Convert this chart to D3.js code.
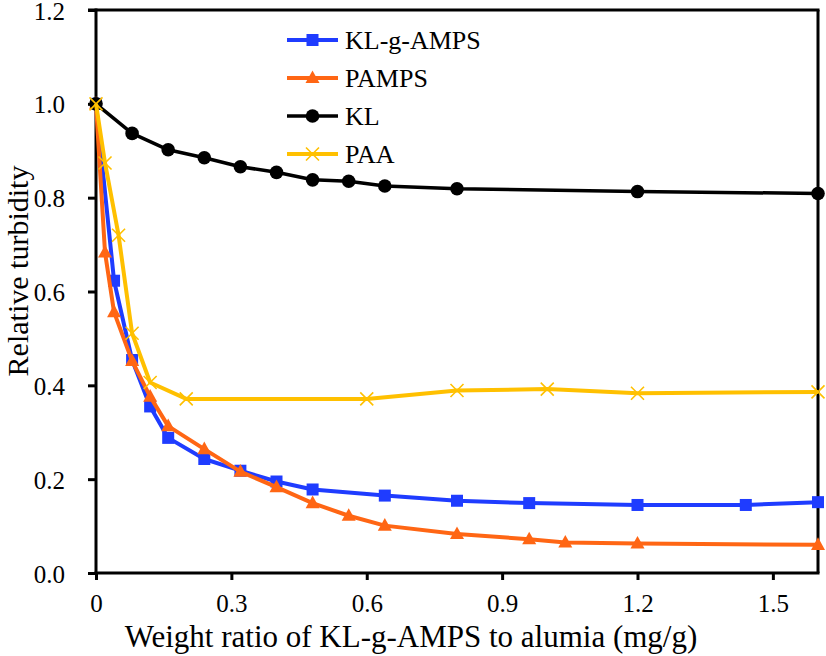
<!DOCTYPE html>
<html>
<head>
<meta charset="utf-8">
<script src="https://cdn.jsdelivr.net/npm/d3@7"></script>
<style>
  html, body { margin: 0; padding: 0; background: #fff; }
  svg { display: block; }
  svg text { font-family: 'Liberation Serif', 'Times New Roman', Times, 'DejaVu Serif', serif !important; fill: #000; }
</style>
</head>
<body>
<svg id="chart" width="826" height="656"></svg>
<script>
// ---- data ----
const klgX   = [0, 0.04, 0.08, 0.12, 0.16, 0.24, 0.32, 0.40, 0.48, 0.64, 0.80, 0.96, 1.20, 1.44, 1.60];
const klgY   = [1.0, 0.623, 0.454, 0.355, 0.288, 0.243, 0.218, 0.195, 0.178, 0.165, 0.154, 0.149, 0.145, 0.145, 0.151];
const pampsX = [0, 0.02, 0.04, 0.08, 0.12, 0.16, 0.24, 0.32, 0.40, 0.48, 0.56, 0.64, 0.80, 0.96, 1.04, 1.20, 1.60];
const pampsY = [1.0, 0.683, 0.556, 0.452, 0.376, 0.313, 0.264, 0.216, 0.183, 0.149, 0.122, 0.101, 0.083, 0.072, 0.065, 0.063, 0.060];
const klX    = [0, 0.08, 0.16, 0.24, 0.32, 0.40, 0.48, 0.56, 0.64, 0.80, 1.20, 1.60];
const klY    = [1.0, 0.937, 0.902, 0.885, 0.866, 0.854, 0.838, 0.835, 0.825, 0.819, 0.813, 0.809];
const paaX   = [0, 0.02, 0.05, 0.08, 0.12, 0.20, 0.60, 0.80, 1.00, 1.20, 1.60];
const paaY   = [1.0, 0.874, 0.720, 0.511, 0.406, 0.371, 0.371, 0.389, 0.392, 0.383, 0.386];

const seriesNames = ["KL-g-AMPS", "PAMPS", "KL", "PAA"];
const xTicks = [0, 0.3, 0.6, 0.9, 1.2, 1.5];
const yTicks = [0, 0.2, 0.4, 0.6, 0.8, 1.0, 1.2];
const xTitle = "Weight ratio of KL-g-AMPS to alumia (mg/g)";
const yTitle = "Relative turbidity";

// ---- layout ----
const FONT = "'Liberation Serif', 'Times New Roman', Times, 'DejaVu Serif', serif";
const L = 96, R = 818, T = 10, B = 573;
const svg = d3.select("#chart");
const x = d3.scaleLinear().domain([0, 1.6]).range([L, R]);
const y = d3.scaleLinear().domain([0, 1.2]).range([B, T]);

const series = [
  {name: seriesNames[0], xs: klgX, ys: klgY, color: "#1f3cff", width: 4, marker: "square"},
  {name: seriesNames[1], xs: pampsX, ys: pampsY, color: "#ff6614", width: 4, marker: "triangle"},
  {name: seriesNames[2], xs: klX, ys: klY, color: "#000000", width: 3.5, marker: "circle"},
  {name: seriesNames[3], xs: paaX, ys: paaY, color: "#ffc000", width: 4, marker: "x"}
];

// frame (top & right)
svg.append("line").attr("x1", L - 8).attr("x2", R + 1.5).attr("y1", T).attr("y2", T)
  .attr("stroke", "#000").attr("stroke-width", 3);
svg.append("line").attr("x1", R).attr("x2", R).attr("y1", T).attr("y2", B)
  .attr("stroke", "#000").attr("stroke-width", 3);

// axes
const yAxis = d3.axisLeft(y).tickValues(yTicks).tickFormat(d3.format(".1f")).tickSize(8).tickSizeOuter(0).tickPadding(23);
const gy = svg.append("g").attr("transform", `translate(${L},0)`).call(yAxis);
const xAxis = d3.axisBottom(x).tickValues(xTicks).tickFormat(d => d === 0 ? "0" : d3.format(".1f")(d)).tickSize(7).tickSizeOuter(0).tickPadding(14);
const gx = svg.append("g").attr("transform", `translate(0,${B})`).call(xAxis);
[gx, gy].forEach(g => {
  g.attr("font-family", FONT).attr("font-size", 25);
  g.select(".domain").attr("stroke", "#000").attr("stroke-width", 3);
  g.selectAll(".tick line").attr("stroke", "#000").attr("stroke-width", 3);
  g.selectAll(".tick text").attr("font-family", FONT).attr("font-size", 25).attr("fill", "#000");
});
gx.select(".domain").attr("d", `M${L - 1.5},0H${R + 1.5}`);
gy.select(".domain").attr("d", `M0,${B + 1.5}V${T - 1.5}`);
gy.selectAll(".tick text").attr("dy", "0.36em");

// titles
svg.append("text").attr("x", 411).attr("y", 647).attr("text-anchor", "middle")
  .attr("font-family", FONT).attr("font-size", 31).text(xTitle);
svg.append("text").attr("transform", `translate(27.5,271) rotate(-90)`).attr("text-anchor", "middle")
  .attr("font-family", FONT).attr("font-size", 30).text(yTitle);

// markers
function drawMarker(g, type, cx, cy, color) {
  if (type === "square") {
    g.append("rect").attr("x", cx - 6).attr("y", cy - 6).attr("width", 12).attr("height", 12).attr("fill", color);
  } else if (type === "triangle") {
    const s = 14, h = s * 0.9;
    g.append("path").attr("d", `M${cx},${cy - h * 0.6}L${cx + s / 2},${cy + h * 0.4}L${cx - s / 2},${cy + h * 0.4}Z`).attr("fill", color);
  } else if (type === "circle") {
    g.append("circle").attr("cx", cx).attr("cy", cy).attr("r", 6.8).attr("fill", color);
  } else if (type === "x") {
    const r = 6.5;
    g.append("path").attr("d", `M${cx - r},${cy - r}L${cx + r},${cy + r}M${cx - r},${cy + r}L${cx + r},${cy - r}`)
      .attr("stroke", color).attr("stroke-width", 1.6).attr("fill", "none");
  }
}

const line = d3.line().x(d => x(d[0])).y(d => y(d[1]));
series.forEach(s => {
  const pts = s.xs.map((v, i) => [v, s.ys[i]]);
  const g = svg.append("g");
  g.append("path").datum(pts).attr("d", line).attr("fill", "none")
    .attr("stroke", s.color).attr("stroke-width", s.width).attr("stroke-linejoin", "round");
  pts.forEach(p => drawMarker(g, s.marker, x(p[0]), y(p[1]), s.color));
});

// legend
const legY0 = 40, legDy = 38;
series.forEach((s, i) => {
  const ly = legY0 + i * legDy;
  const g = svg.append("g");
  g.append("line").attr("x1", 287).attr("x2", 338).attr("y1", ly).attr("y2", ly)
    .attr("stroke", s.color).attr("stroke-width", s.width);
  drawMarker(g, s.marker, 312.5, ly, s.color);
  g.append("text").attr("x", 345).attr("y", ly + 9).attr("font-family", FONT).attr("font-size", 26).text(s.name);
});
</script>
</body>
</html>
